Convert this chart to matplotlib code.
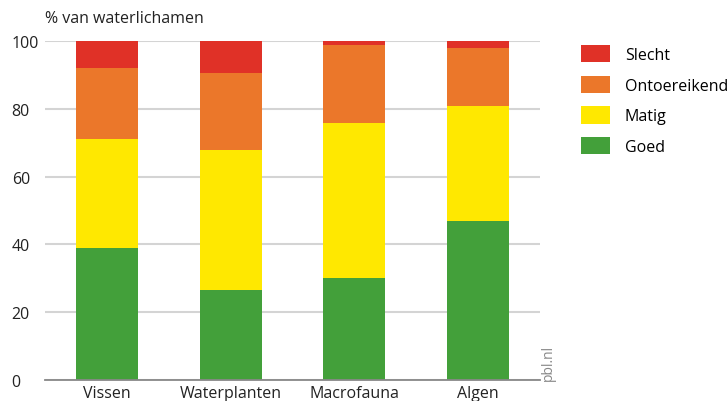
import matplotlib.pyplot as plt
import numpy as np

plt.rcParams['font.family'] = ['Open Sans', 'DejaVu Sans']

categories = ['Vissen', 'Waterplanten', 'Macrofauna', 'Algen']
goed = [39, 26.5, 30, 47]
matig = [32, 41.5, 46, 34]
ontoereikend = [21, 22.5, 23, 17]
slecht = [8, 9.5, 1, 2]

series = [('Goed', goed, '#43a03a'),
          ('Matig', matig, '#ffe800'),
          ('Ontoereikend', ontoereikend, '#eb772a'),
          ('Slecht', slecht, '#e03127')]

fig = plt.figure(figsize=(7.27, 4.02), dpi=100)
ax = fig.add_axes([0.0619, 0.0527, 0.681, 0.842])

x = np.arange(len(categories))
bottom = np.zeros(len(categories))
handles = []
for name, vals, color in series:
    b = ax.bar(x, vals, 0.5, bottom=bottom, color=color, label=name, zorder=3)
    bottom += np.array(vals)
    handles.append(b)

ax.set_xlim(-0.5, 3.5)
ax.set_ylim(0, 100)
ax.set_yticks(range(0, 101, 20))
ax.set_xticks(x)
ax.set_xticklabels(categories)
ax.yaxis.grid(True, color='#d4d4d4', linewidth=1.5, zorder=0)
for s in ['top', 'right', 'left']:
    ax.spines[s].set_visible(False)
ax.spines['bottom'].set_color('#888888')
ax.spines['bottom'].set_linewidth(1.3)
ax.spines['bottom'].set_zorder(4)
ax.tick_params(axis='both', length=0, labelsize=11.5, colors='#222222')
ax.tick_params(axis='y', pad=24)
for lbl in ax.get_yticklabels():
    lbl.set_horizontalalignment('left')
ax.tick_params(axis='x', pad=4)

fig.text(0.0619, 0.952, '% van waterlichamen', fontsize=11.5, color='#222222',
         ha='left', va='center')
fig.text(0.754, 0.0527, 'pbl.nl', fontsize=10, color='#888888', rotation=90,
         ha='center', va='bottom')

leg = fig.legend(handles[::-1], [h.get_label() for h in handles[::-1]],
                 loc='upper left', bbox_to_anchor=(0.799, 0.886), frameon=False,
                 fontsize=11.5, handlelength=1.8, handleheight=1.3,
                 labelspacing=0.79, handletextpad=0.95, borderaxespad=0,
                 borderpad=0)

fig.savefig('out.png', dpi=100)
